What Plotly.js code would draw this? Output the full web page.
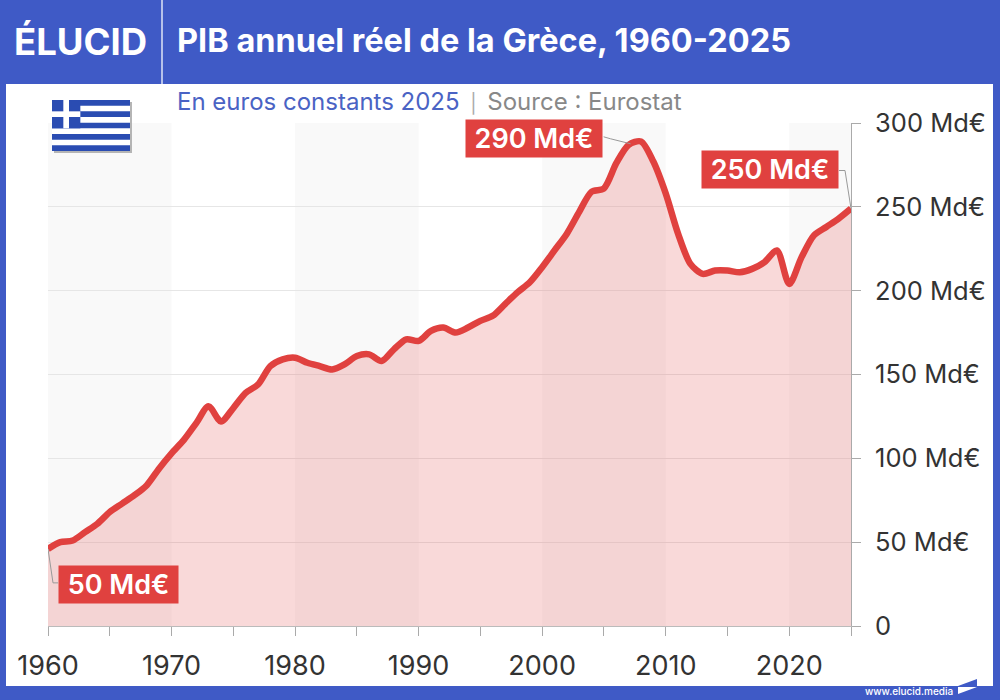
<!DOCTYPE html>
<html><head><meta charset="utf-8">
<script src="https://cdn.plot.ly/plotly-3.0.1.min.js"></script>
<style>html,body{margin:0;padding:0;background:#3f5ac6}#c{width:1000px;height:700px}</style>
</head><body><div id="c"></div>
<script>
const years=[1960,1961,1962,1963,1964,1965,1966,1967,1968,1969,1970,1971,1972,1973,1974,1975,1976,1977,1978,1979,1980,1981,1982,1983,1984,1985,1986,1987,1988,1989,1990,1991,1992,1993,1994,1995,1996,1997,1998,1999,2000,2001,2002,2003,2004,2005,2006,2007,2008,2009,2010,2011,2012,2013,2014,2015,2016,2017,2018,2019,2020,2021,2022,2023,2024,2025];
const gdp=[46,50,51,56,61,68,73,78,84,94,103,111,121,131,122,130,139,144,155,159,160,157,155,153,156,161,162,158,165,171,170,176,178,175,178,182,185,192,199,205,214,224,234,247,259,261,276,287,289,277,258,234,216,210,212,212,211,213,217,224,204,220,233,238,243,249];
const yTicks=[0,50,100,150,200,250,300];
const yLabels=["0","50 Md€","100 Md€","150 Md€","200 Md€","250 Md€","300 Md€"];
const xTicks=[1960,1965,1970,1975,1980,1985,1990,1995,2000,2005,2010,2015,2020,2025];
const xLabels=["1960","","1970","","1980","","1990","","2000","","2010","","2020",""];
const bandStarts=[1960,1980,2000,2020];
const bandEnds=[1970,1990,2010,2025];
const callouts=["50 Md€","290 Md€","250 Md€"];

const L=48,R=851,T=123,B=626;
const px=x=>(x-L)/(R-L), py=y=>1-(y-T)/(B-T);
const BLUE="#3f5ac6", RED="#e0413f";
const rect=(x0,y0,x1,y1,c,layer)=>({type:"rect",xref:"paper",yref:"paper",x0:px(x0),x1:px(x1),y0:py(y0),y1:py(y1),fillcolor:c,line:{width:0},layer:layer||"below"});
const poly=(pts,c)=>({type:"path",xref:"paper",yref:"paper",path:"M"+pts.map(p=>px(p[0])+","+py(p[1])).join(" L")+" Z",fillcolor:c,line:{width:0},layer:"above"});

const shapes=[];
shapes.push(rect(6,84,993,686,"#ffffff"));
bandStarts.forEach((s,i)=>shapes.push({type:"rect",xref:"x",yref:"paper",x0:s,x1:bandEnds[i],y0:0,y1:1,fillcolor:"#f9f9f9",line:{width:0},layer:"below"}));
shapes.push({type:"line",xref:"paper",yref:"paper",x0:px(162),x1:px(162),y0:py(0),y1:py(84),line:{color:"#dfe4f6",width:1.5},layer:"below"});
const fx0=52,fx1=130,fy0=100,fy1=151,sh=(fy1-fy0)/9,FB="#2a4cb2";
shapes.push(rect(fx0+2,fy0+2,fx1+2,fy1+2,"#b5b5b5"));
shapes.push(rect(fx0,fy0,fx1,fy1,"#ffffff"));
for(let i=0;i<9;i+=2)shapes.push(rect(fx0,fy0+i*sh,fx1,fy0+(i+1)*sh,FB));
shapes.push(rect(fx0,fy0,fx0+5*sh,fy0+5*sh,FB));
shapes.push(rect(fx0+2*sh,fy0,fx0+3*sh,fy0+5*sh,"#ffffff"));
shapes.push(rect(fx0,fy0+2*sh,fx0+5*sh,fy0+3*sh,"#ffffff"));
shapes.push(poly([[958,686],[977,679],[977,686]],BLUE));
shapes.push(poly([[958,687],[977,687],[958,694]],"#ffffff"));
const lead=(x,y,path)=>({type:"path",xref:"x",yref:"y",xsizemode:"pixel",ysizemode:"pixel",xanchor:x,yanchor:y,path,line:{color:"#999999",width:1},fillcolor:"rgba(0,0,0,0)",layer:"above"});
shapes.push(lead(1960,gdp[0],"M0,0 L5,-34 L10,-34"));
shapes.push(lead(2007,gdp[47],"M-25,8 L-18,6 L2,1"));
shapes.push(lead(2025,gdp[65],"M0,0 L-6,38 L-12,38"));

const FONT="Inter, sans-serif";
const ann=(x,y,text,size,color,weight,extra)=>Object.assign({xref:"paper",yref:"paper",x:px(x),y:py(y),text,showarrow:false,xanchor:"left",yanchor:"middle",font:{family:FONT,size,color,weight:weight||400}},extra||{});
const callout=(text,x,y,xs,ys,w)=>({xref:"x",yref:"y",x,y,xshift:xs,yshift:ys,text,showarrow:false,bgcolor:RED,borderpad:1,width:w,height:35,align:"center",xanchor:"center",yanchor:"middle",font:{family:FONT,size:27,color:"#fff",weight:600}});

const annotations=[
 ann(12,42,"ÉLUCID",36.5,"#fff",700),
 ann(175,101,'En euros constants 2025<span style="color:#aaa;font-size:19px">\u00a0\u00a0|\u00a0\u00a0</span><span style="color:#888">Source : Eurostat</span>',24,"#4a63c4",400),
 ann(863,691,"www.elucid.media",10,"#fff",500),
 callout(callouts[0],1960,gdp[0],70.5,-36,117),
 callout(callouts[1],2007,gdp[47],-95,6,134),
 callout(callouts[2],2025,gdp[65],-81,39,134)
];

Plotly.newPlot("c",[{
  x:years,y:gdp,type:"scatter",mode:"lines",
  line:{color:RED,width:6.5,shape:"spline",smoothing:0.8},
  fill:"tozeroy",fillcolor:"rgba(224,65,63,0.2)",hoverinfo:"skip",cliponaxis:false
}],{
  width:1000,height:700,showlegend:false,
  paper_bgcolor:BLUE,plot_bgcolor:"rgba(0,0,0,0)",
  margin:{l:L,r:1000-R,t:T,b:700-B,pad:0},
  font:{family:FONT,color:"#333"},
  title:{text:"PIB annuel réel de la Grèce, 1960-2025",x:0.177,xanchor:"left",y:1-41/700,yanchor:"middle",font:{family:FONT,size:32.5,color:"#fff",weight:700}},
  xaxis:{range:[1960,2025],tickmode:"array",tickvals:xTicks,ticktext:xLabels,ticks:"outside",ticklen:9,tickcolor:"#aaa",tickwidth:1,showgrid:false,zeroline:false,showline:true,linecolor:"#bbb",linewidth:1,tickangle:0,tickfont:{family:FONT,size:27,color:"#333"},ticklabelstandoff:7},
  yaxis:{range:[0,300],side:"right",tickmode:"array",tickvals:yTicks,ticktext:yLabels,ticks:"outside",ticklen:9,tickcolor:"#aaa",tickwidth:1,showgrid:true,gridcolor:"#e6e6e6",gridwidth:1,zeroline:false,showline:true,linecolor:"#aaa",linewidth:1,tickfont:{family:FONT,size:25.5,color:"#333"},ticklabelstandoff:9},
  shapes,annotations
},{staticPlot:true,displayModeBar:false});
</script></body></html>
